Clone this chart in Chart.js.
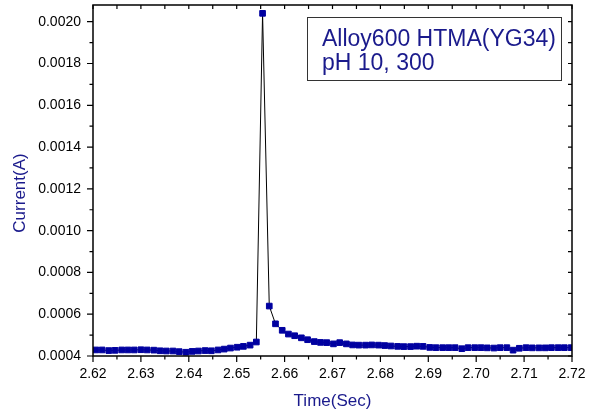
<!DOCTYPE html>
<html>
<head>
<meta charset="utf-8">
<script src="https://cdn.jsdelivr.net/npm/chart.js@4.4.0/dist/chart.umd.min.js"></script>
<style>
  html, body { margin: 0; padding: 0; background: #fff; }
</style>
</head>
<body>
<canvas id="currentChart" width="594" height="419"></canvas>
<script>
// time (s) and current (A)
const times = [
  2.6206, 2.6219, 2.6233, 2.6246, 2.6260, 2.6273, 2.6286, 2.6300, 2.6313, 2.6327,
  2.6340, 2.6353, 2.6367, 2.6380, 2.6394, 2.6407, 2.6420, 2.6434, 2.6447, 2.6461,
  2.6474, 2.6487, 2.6501, 2.6514, 2.6528, 2.6541, 2.6554, 2.6568, 2.6581, 2.6595,
  2.6608, 2.6621, 2.6635, 2.6648, 2.6662, 2.6675, 2.6688, 2.6702, 2.6715, 2.6729,
  2.6742, 2.6755, 2.6769, 2.6782, 2.6796, 2.6809, 2.6822, 2.6836, 2.6849, 2.6863,
  2.6876, 2.6889, 2.6903, 2.6916, 2.6930, 2.6943, 2.6956, 2.6970, 2.6983, 2.6997,
  2.7010, 2.7023, 2.7037, 2.7050, 2.7064, 2.7077, 2.7090, 2.7104, 2.7117, 2.7131,
  2.7144, 2.7157, 2.7171, 2.7184, 2.7198
];
const current = [
  0.000429, 0.000429, 0.000426, 0.000427, 0.000429, 0.000429, 0.000429, 0.000430, 0.000429, 0.000428,
  0.000425, 0.000424, 0.000424, 0.000421, 0.000418, 0.000422, 0.000424, 0.000426, 0.000425, 0.000429,
  0.000433, 0.000438, 0.000442, 0.000446, 0.000452, 0.000467, 0.002040, 0.000639, 0.000554, 0.000523,
  0.000505, 0.000497, 0.000487, 0.000478, 0.000469, 0.000465, 0.000464, 0.000458, 0.000464, 0.000458,
  0.000453, 0.000452, 0.000452, 0.000453, 0.000452, 0.000450, 0.000448, 0.000446, 0.000445, 0.000445,
  0.000447, 0.000446, 0.000441, 0.000440, 0.000440, 0.000440, 0.000440, 0.000435, 0.000440, 0.000440,
  0.000440, 0.000439, 0.000438, 0.000440, 0.000440, 0.000428, 0.000437, 0.000440, 0.000439, 0.000439,
  0.000439, 0.000440, 0.000440, 0.000440, 0.000440
];

const xTicks = [2.62, 2.63, 2.64, 2.65, 2.66, 2.67, 2.68, 2.69, 2.70, 2.71, 2.72];
const xMinor = [2.625, 2.635, 2.645, 2.655, 2.665, 2.675, 2.685, 2.695, 2.705, 2.715];
const yTicks = [0.0004, 0.0006, 0.0008, 0.0010, 0.0012, 0.0014, 0.0016, 0.0018, 0.0020];
const yMinor = [0.0005, 0.0007, 0.0009, 0.0011, 0.0013, 0.0015, 0.0017, 0.0019];

const boxLines = ['Alloy600 HTMA(YG34)', 'pH 10, 300'];
const yTitle = 'Current(A)';

const navy = '#1a1a8c';
const markerBlue = '#0000a0';
const fontFam = '"Liberation Sans", Arial, sans-serif';

// frame with Origin-like ticks, y title (sits a bit low in the original) + text box
const framePlugin = {
  id: 'frame',
  afterDraw(chart) {
    const ctx = chart.ctx;
    const a = chart.chartArea;
    const xs = chart.scales.x;
    const ys = chart.scales.y;
    ctx.save();
    ctx.strokeStyle = '#000';
    ctx.lineWidth = 1.5;
    ctx.strokeRect(a.left, a.top, a.right - a.left, a.bottom - a.top);

    ctx.lineWidth = 1.2;
    ctx.beginPath();
    xTicks.forEach(v => {
      const px = xs.getPixelForValue(v);
      ctx.moveTo(px, a.bottom); ctx.lineTo(px, a.bottom + 6);
      ctx.moveTo(px, a.top); ctx.lineTo(px, a.top + 4);
    });
    xMinor.forEach(v => {
      const px = xs.getPixelForValue(v);
      ctx.moveTo(px, a.bottom); ctx.lineTo(px, a.bottom + 3.5);
      ctx.moveTo(px, a.top); ctx.lineTo(px, a.top + 4);
    });
    yTicks.forEach(v => {
      const py = ys.getPixelForValue(v);
      ctx.moveTo(a.left, py); ctx.lineTo(a.left - 6, py);
      ctx.moveTo(a.right, py); ctx.lineTo(a.right - 4, py);
    });
    yMinor.forEach(v => {
      const py = ys.getPixelForValue(v);
      ctx.moveTo(a.left, py); ctx.lineTo(a.left - 3.5, py);
      ctx.moveTo(a.right, py); ctx.lineTo(a.right - 4, py);
    });
    ctx.stroke();

    // y axis title
    ctx.save();
    ctx.translate(20, a.top + 188);
    ctx.rotate(-Math.PI / 2);
    ctx.fillStyle = navy;
    ctx.font = '17px ' + fontFam;
    ctx.textAlign = 'center';
    ctx.textBaseline = 'middle';
    ctx.fillText(yTitle, 0, 0);
    ctx.restore();

    // label box
    const bx = a.left + 214, by = a.top + 12;
    ctx.lineWidth = 1;
    ctx.strokeStyle = '#333';
    ctx.strokeRect(bx + 0.5, by + 0.5, 254, 63);
    ctx.fillStyle = navy;
    ctx.font = '23px ' + fontFam;
    ctx.textBaseline = 'alphabetic';
    ctx.fillText(boxLines[0], bx + 15, by + 29);
    ctx.fillText(boxLines[1], bx + 15, by + 53);
    ctx.restore();
  }
};

const ctx = document.getElementById('currentChart').getContext('2d');
const chart = new Chart(ctx, {
  type: 'line',
  data: {
    datasets: [{
      data: times.map((t, i) => ({ x: t, y: current[i] })),
      borderColor: '#000',
      borderWidth: 1,
      tension: 0,
      pointStyle: 'rect',
      pointRadius: 4,
      pointBorderWidth: 1,
      pointBackgroundColor: markerBlue,
      pointBorderColor: markerBlue
    }]
  },
  options: {
    responsive: false,
    animation: false,
    layout: { padding: { top: 4, right: 22, left: 0, bottom: 0 } },
    plugins: {
      legend: { display: false },
      tooltip: { enabled: false }
    },
    scales: {
      x: {
        type: 'linear',
        min: 2.62,
        max: 2.72,
        afterFit: s => { s.height = 63; s.paddingLeft = 0; s.paddingRight = 0; },
        afterBuildTicks: s => { s.ticks = xTicks.map(v => ({ value: v })); },
        grid: { display: false, drawTicks: false },
        border: { display: false },
        ticks: {
          padding: 10,
          maxRotation: 0,
          autoSkip: false,
          color: '#000',
          font: { family: fontFam, size: 14 },
          callback: v => v.toFixed(2)
        },
        title: {
          display: true,
          text: 'Time(Sec)',
          color: navy,
          padding: { top: 0, bottom: 7 },
          font: { family: fontFam, size: 17 }
        }
      },
      y: {
        min: 0.0004,
        max: 0.00208,
        afterFit: s => { s.width = 93; s.paddingTop = 0; s.paddingBottom = 0; },
        afterBuildTicks: s => { s.ticks = yTicks.map(v => ({ value: v })); },
        grid: { display: false, drawTicks: false },
        border: { display: false },
        ticks: {
          padding: 12,
          autoSkip: false,
          color: '#000',
          font: { family: fontFam, size: 14 },
          callback: v => v.toFixed(4)
        },
        title: { display: false }
      }
    }
  },
  plugins: [framePlugin]
});
</script>
</body>
</html>
